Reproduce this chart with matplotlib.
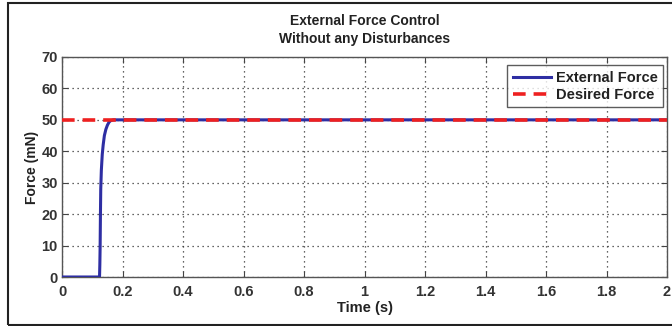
import numpy as np
import matplotlib.pyplot as plt
from matplotlib.patches import Rectangle

# values
t = [0, 0.124, 0.125, 0.126, 0.127, 0.128, 0.130, 0.133, 0.136, 0.140, 0.145, 0.150, 0.155, 0.160, 0.170, 2.0]
ext_force = [0, 0, 4, 10, 20, 28, 34, 39, 42, 45, 47, 48.3, 49.2, 49.7, 50, 50]
t_desired = [0, 2.0]
desired_force = [50, 50]

xticks = [0, 0.2, 0.4, 0.6, 0.8, 1, 1.2, 1.4, 1.6, 1.8, 2]
xticklabels = ['0', '0.2', '0.4', '0.6', '0.8', '1', '1.2', '1.4', '1.6', '1.8', '2']
yticks = [0, 10, 20, 30, 40, 50, 60, 70]

plt.rcParams['font.family'] = ['Liberation Sans', 'DejaVu Sans']
plt.rcParams['font.weight'] = 'bold'

fig = plt.figure(figsize=(6.72, 3.26), dpi=100)
ax = fig.add_axes([0.0923, 0.1503, 0.9003, 0.6749])

ax.plot(t, ext_force, color='#2e2ea3', lw=2.2, label='External Force', zorder=3)
ax.plot(t_desired, desired_force, color='#ee2020', lw=2.6, ls=(0, (3.5, 2.2)), label='Desired Force', zorder=4)

ax.set_xlim(0, 2)
ax.set_ylim(0, 70)
ax.set_xticks(xticks)
ax.set_xticklabels(xticklabels)
ax.set_yticks(yticks)
ax.grid(True, ls=(0, (1, 3)), color='#333333', lw=0.9)
ax.tick_params(direction='in', top=True, right=True, labelsize=10.5, length=4, color='#444444', pad=3,
               labelcolor='#333333')
ax.tick_params(axis='x', pad=6)
for s in ax.spines.values():
    s.set_color('#555555')
    s.set_linewidth(1.0)

ax.set_xlabel('Time (s)', fontsize=10.5, fontweight='bold', labelpad=1, color='#222222')
ax.set_ylabel('Force (mN)', fontsize=10, fontweight='bold', labelpad=2, color='#222222')
ax.set_title('External Force Control\nWithout any Disturbances', fontsize=10, fontweight='bold',
             linespacing=1.4, pad=10, color='#222222')

leg = ax.legend(loc='upper right', bbox_to_anchor=(0.994, 0.964), fontsize=10.5, frameon=True, fancybox=False,
                borderpad=0.4, handlelength=2.6, handletextpad=0.35, labelspacing=0.2,
                borderaxespad=0.0)
leg.get_frame().set_edgecolor('#333333')
leg.get_frame().set_linewidth(1.0)
for txt in leg.get_texts():
    txt.set_fontweight('bold')
    txt.set_color('#222222')

fig.patches.append(Rectangle((8 / 672, 1 / 326), 1.0, 1 - 4 / 326, transform=fig.transFigure,
                             fill=False, edgecolor='#222222', lw=1.5))

fig.savefig('out.png', dpi=100)
